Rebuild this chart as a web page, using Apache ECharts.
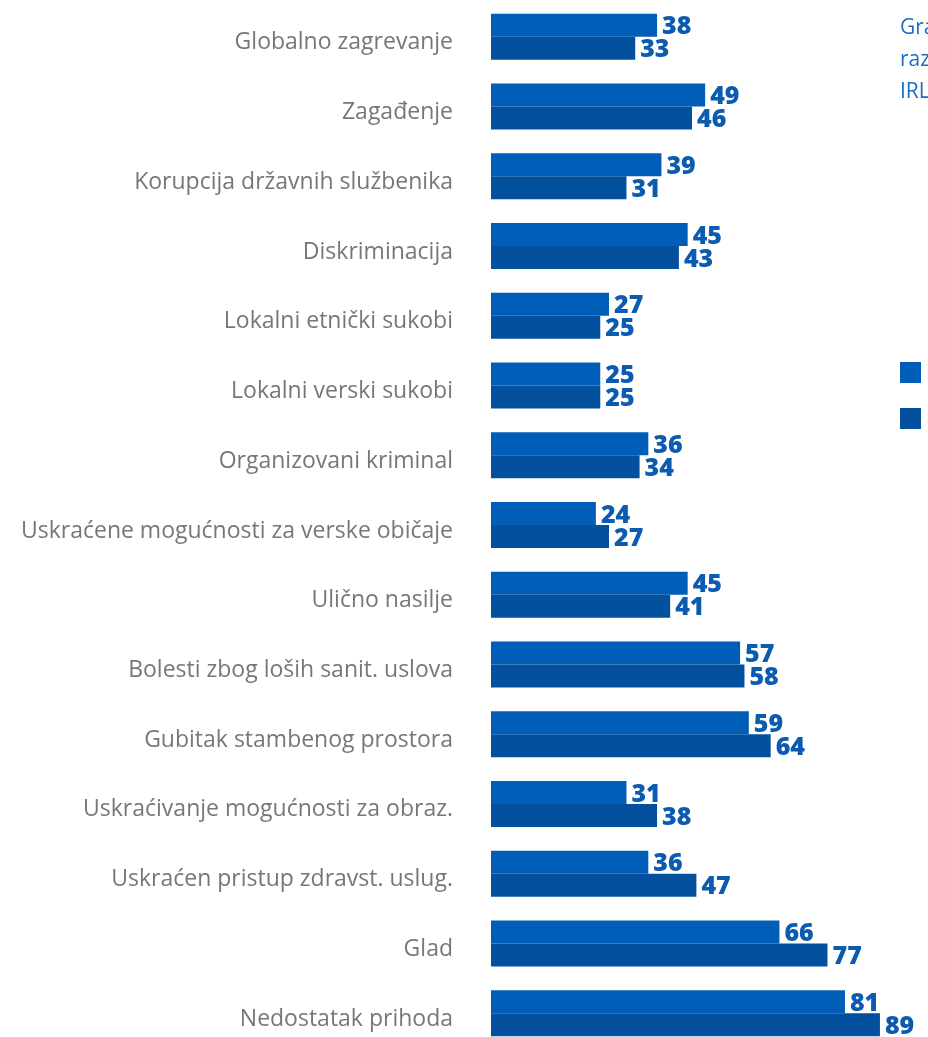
<!DOCTYPE html>
<html><head><meta charset="utf-8">
<script src="https://cdn.jsdelivr.net/npm/echarts@6/dist/echarts.min.js"></script>
<style>html,body{margin:0;padding:0;background:#fff;overflow:hidden}#c{width:928px;height:1060px}</style>
</head><body><div id="c"></div>
<script>
const categories = ["Globalno zagrevanje","Zagađenje","Korupcija državnih službenika","Diskriminacija","Lokalni etnički sukobi","Lokalni verski sukobi","Organizovani kriminal","Uskraćene mogućnosti za verske običaje","Ulično nasilje","Bolesti zbog loših sanit. uslova","Gubitak stambenog prostora","Uskraćivanje mogućnosti za obraz.","Uskraćen pristup zdravst. uslug.","Glad","Nedostatak prihoda"];
const seriesNames = ["IRL 2019","IRL 2021"];
const values1 = [38,49,39,45,27,25,36,24,45,57,59,31,36,66,81];
const values2 = [33,46,31,43,25,25,34,27,41,58,64,38,47,77,89];
const titleLines = ["Grafikon: glavni","razlozi zabrinutosti","IRL populacije"];

const chart = echarts.init(document.getElementById('c'));
const lbl = {show:true, position:'right', distance:5, offset:[0,2], color:'#0B5BB0', fontFamily:'Open Sans', fontWeight:800, fontSize:25};
chart.setOption({
  animation:false,
  title:{text:titleLines.join('\n'), left:900, top:12, padding:0, textStyle:{color:'#1E6CC3', fontFamily:'Open Sans', fontWeight:'normal', fontSize:21, lineHeight:32}},
  legend:{orient:'vertical', left:900, top:362, padding:0, itemWidth:21, itemHeight:21, itemGap:25, icon:'rect', textStyle:{fontSize:20, color:'#555', fontFamily:'Open Sans'}, data:seriesNames},
  grid:{left:491, top:2, width:444, height:1046, containLabel:false},
  xAxis:{type:'value', min:0, max:100, show:false},
  yAxis:{type:'category', inverse:true, data:categories, axisLine:{show:false}, axisTick:{show:false},
    axisLabel:{color:'#777', fontFamily:'Open Sans', fontSize:23, margin:38, verticalAlign:'top', lineHeight:12}},
  series:[
    {name:seriesNames[0], type:'bar', data:values1, barWidth:23, barGap:'0%', itemStyle:{color:'#005EB8'}, label:lbl},
    {name:seriesNames[1], type:'bar', data:values2, barWidth:23, barGap:'0%', itemStyle:{color:'#02509E'}, label:lbl}
  ]
});
</script></body></html>
